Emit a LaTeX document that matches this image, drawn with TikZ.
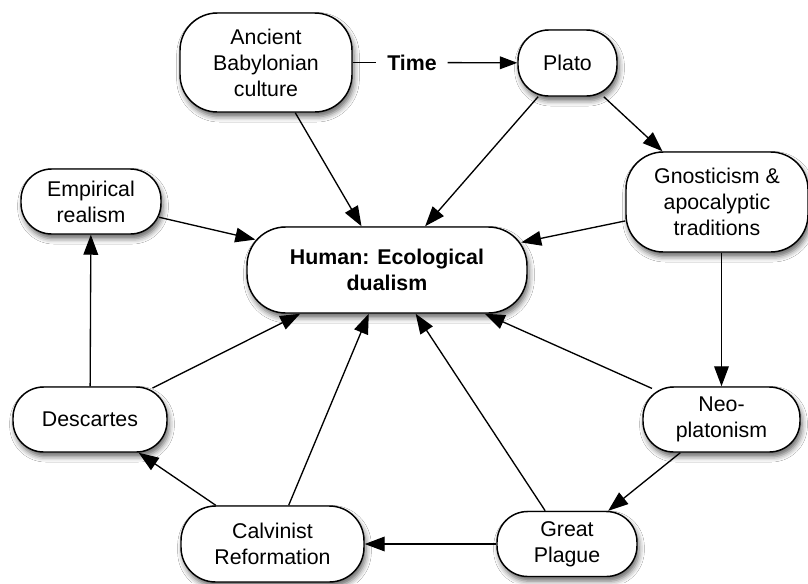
\documentclass[tikz,border=0pt]{standalone}
\usepackage{fontspec}
\setmainfont{Liberation Sans}
\usetikzlibrary{arrows.meta,shadows.blur}
\begin{document}
\begin{tikzpicture}[x=0.75pt,y=-0.75pt,
  txt/.style={font=\fontsize{16pt}{19.5pt}\selectfont},
  boldtxt/.style={font=\bfseries\fontsize{16pt}{19.5pt}\selectfont},
  box/.style={txt, draw=black, line width=1.1pt, fill=white, rounded corners=23pt,
    align=center, inner sep=0pt,
    blur shadow={shadow xshift=1.5pt, shadow yshift=-3.5pt, shadow blur radius=4pt, shadow opacity=60}},
  arr/.style={line width=1pt, -{Triangle[length=15pt,width=11pt]}},
  ln/.style={line width=1pt}]
\fill[white] (0,0) rectangle (808,583);
\useasboundingbox (0,0) rectangle (808,583);

\node[box, minimum width=129pt, minimum height=74.25pt, rounded corners=28pt] (bab) at (266,62.5) {Ancient\\Babylonian\\culture};
\node[box, minimum width=74.25pt, minimum height=49.5pt] (plato) at (567.5,63) {Plato};
\node[boldtxt, inner xsep=8pt, inner ysep=2pt] (time) at (412,62.5) {Time};
\node[box, minimum width=136.5pt, minimum height=75pt, rounded corners=28pt] (gno) at (717,202) {Gnosticism \&\\apocalyptic\\traditions};
\node[box, minimum width=105pt, minimum height=48.75pt] (emp) at (91,201.5) {Empirical\\realism};
\node[box, boldtxt, minimum width=210pt, minimum height=64.5pt, rounded corners=29pt] (hum) at (387,270) {Human: Ecological\\dualism};
\node[box, minimum width=115.5pt, minimum height=48.75pt] (desc) at (90,419.5) {Descartes};
\node[box, minimum width=117.75pt, minimum height=48.75pt] (neo) at (721.5,419.5) {Neo-\\platonism};
\node[box, minimum width=137.25pt, minimum height=57pt, rounded corners=26pt] (calv) at (272.5,544) {Calvinist\\Reformation};
\node[box, minimum width=105pt, minimum height=48.75pt] (plague) at (567,544) {Great\\Plague};

\draw[ln] (bab) -- (time);
\draw[arr, -{Triangle[length=13pt,width=9.5pt]}] (time) -- (plato);
\draw[arr] (bab) -- (hum);
\draw[arr] (plato) -- (hum);
\draw[arr] (plato) -- (gno);
\draw[arr, shorten >=-5pt] (gno) -- (hum);
\draw[arr, shorten <=-2pt, shorten >=-7pt] (emp) -- (hum);
\draw[arr] (desc) -- (emp);
\draw[arr, shorten <=-3pt] (desc) -- (hum);
\draw[arr] (neo |- gno.south) -- (neo);
\draw[arr, shorten <=-4pt] (neo) -- (hum);
\draw[arr] (neo) -- (plague);
\draw[arr] (plague) -- (hum);
\draw[arr] (plague) -- (calv);
\draw[arr] (calv) -- (hum);
\draw[arr] (calv) -- (desc);
\end{tikzpicture}
\end{document}
